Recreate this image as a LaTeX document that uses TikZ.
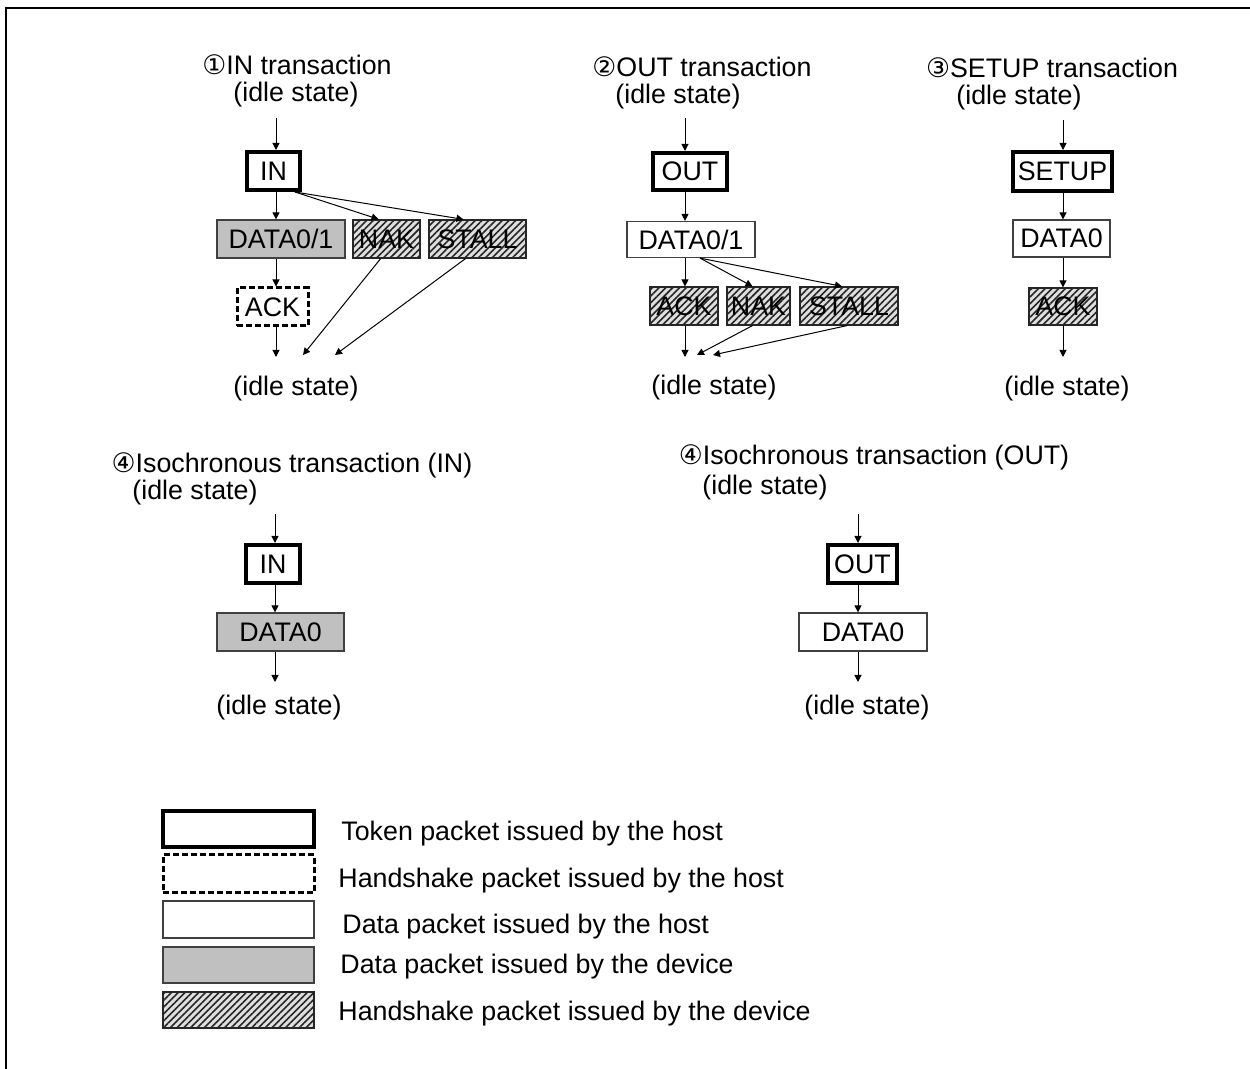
\documentclass[tikz,border=0pt]{standalone}
\usepackage{fontspec}
\setmainfont{Liberation Sans}
\newfontfamily\circfont{DejaVu Sans}
\usetikzlibrary{arrows.meta,patterns.meta}
\definecolor{devgray}{RGB}{192,192,192}
\begin{document}
\begin{tikzpicture}[x=0.5pt,y=-0.5pt,
    every node/.style={font=\fontsize{13.4}{15}\selectfont},
    txt/.style={yshift=-1.5pt},
    keytxt/.style={anchor=west,inner xsep=0pt,yshift=-1.5pt},
    wh/.style 2 args={minimum width=#1*0.5pt,minimum height=#2*0.5pt,inner sep=0pt},
    token/.style={draw,line width=2pt,fill=white},
    hostshake/.style={draw,line width=1.5pt,dash pattern=on 3pt off 1.5pt,fill=white},
    hostdata/.style={draw=black!75,line width=0.6pt,fill=white},
    devdata/.style={draw=black!75,line width=0.6pt,fill=devgray},
    devshake/.style={draw=black!85,line width=0.6pt,preaction={fill=gray!25},
      pattern={Lines[angle=45,distance=2.4pt,line width=0.8pt]},pattern color=black!85},
    flow/.style={line width=0.5pt,-{Triangle[length=3.5pt,width=3.5pt]}}]
    \useasboundingbox (0,0) rectangle (1250,1069);

    % Frame
    \draw[line width=1pt] (6,1069) -- (6,8) -- (1250,8);

    % --- 1: IN transaction ---
    \node[txt] (t1) at (297,62) {{\circfont ①}IN transaction};
    \node[txt] (s1) at (296,92) {(idle state)};
    \node[txt] (e1) at (296,386) {(idle state)};
    \coordinate (top1) at (276,118);
    \node[token, wh={53}{38}] (in1) at (273.5,171) {IN};
    \node[devdata, wh={128}{38}] (data1) at (281,239) {DATA0/1};
    \node[devshake, wh={67}{38}] (nak1) at (386.5,239) {NAK};
    \node[devshake, wh={97}{38}] (stall1) at (477.5,239) {STALL};
    \node[hostshake, wh={71}{38}] (ack1) at (272.5,307) {ACK};
    \coordinate (end1a) at (276,357);
    \coordinate (end1b) at (303,355);
    \coordinate (end1c) at (335,355);

    \draw[flow] (top1) -- (top1 |- in1.north);
    \draw[flow] (top1 |- in1.south) -- (top1 |- data1.north);
    \draw[flow] ([xshift=-3.5pt]in1.south east) -- ([xshift=-4pt]nak1.north);
    \draw[flow] ([xshift=-3.5pt]in1.south east) -- ([xshift=-7pt]stall1.north);
    \draw[flow] (top1 |- data1.south) -- (top1 |- ack1.north);
    \draw[flow] (top1 |- ack1.south) -- (end1a);
    \draw[flow] ([xshift=-3pt]nak1.south) -- (end1b);
    \draw[flow] ([xshift=-6pt]stall1.south) -- (end1c);

    % --- 2: OUT transaction ---
    \node[txt] (t2) at (702,64) {{\circfont ②}OUT transaction};
    \node[txt] (s2) at (678,94) {(idle state)};
    \node[txt] (e2) at (714,385) {(idle state)};
    \coordinate (top2) at (685,118);
    \node[token, wh={74}{37}] (out2) at (690,171.5) {OUT};
    \node[hostdata, wh={128}{36}] (data2) at (691,239.5) {DATA0/1};
    \node[devshake, wh={68}{38}] (ack2) at (684,306) {ACK};
    \node[devshake, wh={63}{38}] (nak2) at (758.5,306) {NAK};
    \node[devshake, wh={98}{38}] (stall2) at (849,306) {STALL};
    \coordinate (end2a) at (685,357);
    \coordinate (end2b) at (697,355);
    \coordinate (end2c) at (713,355);

    \draw[flow] (top2) -- (top2 |- out2.north);
    \draw[flow] (top2 |- out2.south) -- (top2 |- data2.north);
    \draw[flow] (top2 |- data2.south) -- (top2 |- ack2.north);
    \draw[flow] ([xshift=4.5pt]data2.south) -- ([xshift=-3pt]nak2.north);
    \draw[flow] ([xshift=4.5pt]data2.south) -- ([xshift=-3.5pt]stall2.north);
    \draw[flow] (top2 |- ack2.south) -- (end2a);
    \draw[flow] ([xshift=-3pt]nak2.south) -- (end2b);
    \draw[flow] ([xshift=-1pt]stall2.south) -- (end2c);

    % --- 3: SETUP transaction ---
    \node[txt] (t3) at (1052,65) {{\circfont ③}SETUP transaction};
    \node[txt] (s3) at (1019,95) {(idle state)};
    \node[txt] (e3) at (1067,386) {(idle state)};
    \coordinate (top3) at (1063,120);
    \node[token, wh={99}{39}] (setup3) at (1062.5,171.5) {SETUP};
    \node[hostdata, wh={97}{37}] (data3) at (1061.5,238.5) {DATA0};
    \node[devshake, wh={68}{37}] (ack3) at (1063,306.5) {ACK};
    \coordinate (end3) at (1063,357);

    \draw[flow] (top3) -- (top3 |- setup3.north);
    \draw[flow] (top3 |- setup3.south) -- (top3 |- data3.north);
    \draw[flow] (top3 |- data3.south) -- (top3 |- ack3.north);
    \draw[flow] (top3 |- ack3.south) -- (end3);

    % --- 4: Isochronous transaction (IN) ---
    \node[txt] (t4) at (292,462) {{\circfont ④}Isochronous transaction (IN)};
    \node[txt] (s4) at (195,490) {(idle state)};
    \node[txt] (e4) at (279,705) {(idle state)};
    \coordinate (top4) at (275,514);
    \node[token, wh={54}{38}] (in4) at (273,564) {IN};
    \node[devdata, wh={127}{38}] (data4) at (280.5,632) {DATA0};
    \coordinate (end4) at (275,682);

    \draw[flow] (top4) -- (top4 |- in4.north);
    \draw[flow] (top4 |- in4.south) -- (top4 |- data4.north);
    \draw[flow] (top4 |- data4.south) -- (end4);

    % --- 4: Isochronous transaction (OUT) ---
    \node[txt] (t5) at (874,454) {{\circfont ④}Isochronous transaction (OUT)};
    \node[txt] (s5) at (765,485) {(idle state)};
    \node[txt] (e5) at (867,705) {(idle state)};
    \coordinate (top5) at (858,514);
    \node[token, wh={69}{38}] (out5) at (862.5,564) {OUT};
    \node[hostdata, wh={128}{38}] (data5) at (863,632) {DATA0};
    \coordinate (end5) at (858,682);

    \draw[flow] (top5) -- (top5 |- out5.north);
    \draw[flow] (top5 |- out5.south) -- (top5 |- data5.north);
    \draw[flow] (top5 |- data5.south) -- (end5);

    % --- Legend ---
    \node[token, wh={151}{36}] (lg1) at (238.5,829) {};
    \node[hostshake, wh={151}{38}] (lg2) at (238.5,874) {};
    \node[hostdata, wh={151}{37}] (lg3) at (238.5,919.5) {};
    \node[devdata, wh={151}{36}] (lg4) at (238.5,965) {};
    \node[devshake, wh={151}{36}] (lg5) at (238.5,1010) {};
    \node[keytxt] (lt1) at (341,831) {Token packet issued by the host};
    \node[keytxt] (lt2) at (338,878) {Handshake packet issued by the host};
    \node[keytxt] (lt3) at (342,924) {Data packet issued by the host};
    \node[keytxt] (lt4) at (340,964) {Data packet issued by the device};
    \node[keytxt] (lt5) at (338,1011) {Handshake packet issued by the device};
\end{tikzpicture}
\end{document}
